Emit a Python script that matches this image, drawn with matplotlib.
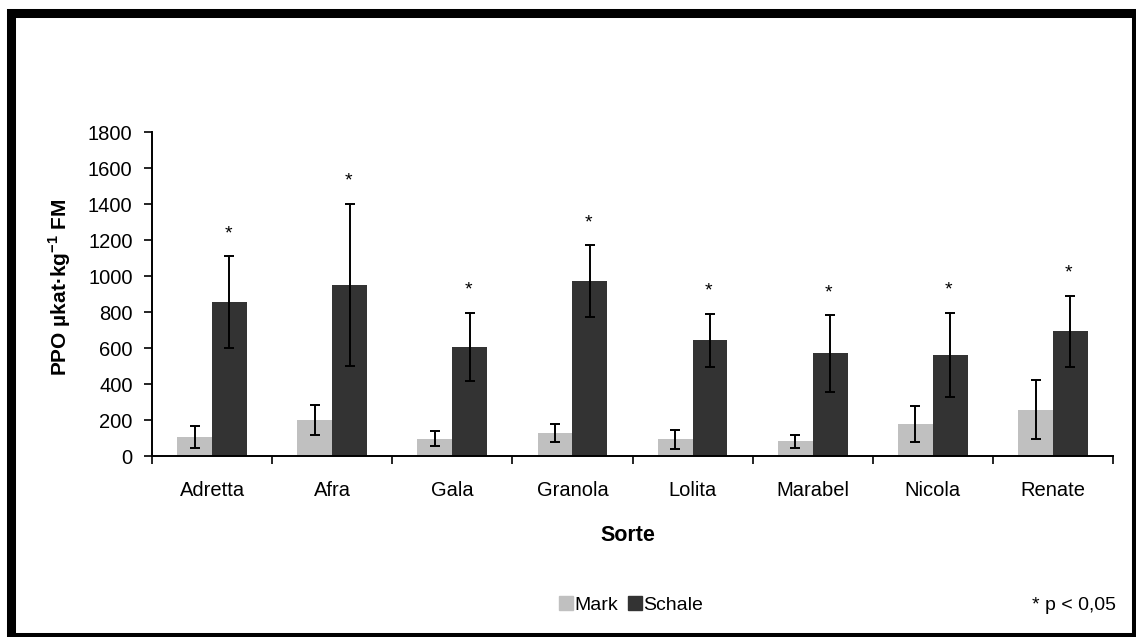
import matplotlib
matplotlib.use('Agg')
import matplotlib.pyplot as plt
import numpy as np
from matplotlib.lines import Line2D
from matplotlib.patches import Rectangle

plt.rcParams['font.family'] = ['Liberation Sans', 'DejaVu Sans']
plt.rcParams['mathtext.fontset'] = 'custom'
plt.rcParams['mathtext.rm'] = 'Liberation Sans'
plt.rcParams['mathtext.bf'] = 'Liberation Sans:bold'

sorten = ['Adretta', 'Afra', 'Gala', 'Granola', 'Lolita', 'Marabel', 'Nicola', 'Renate']
mark_mean = [105, 200, 97, 128, 92, 82, 176, 258]
mark_err = [62, 82, 42, 48, 55, 35, 100, 164]
schale_mean = [855, 950, 605, 970, 643, 570, 563, 692]
schale_err = [255, 450, 190, 200, 148, 212, 233, 197]
signif = [True] * 8

W, H = 1136, 637
fig = plt.figure(figsize=(W / 100, H / 100), dpi=100)
ax = fig.add_axes([152 / W, (H - 456) / H, (1113 - 152) / W, 324 / H])

x = np.arange(len(sorten))
bw = 0.29
ekw = dict(ecolor='black', elinewidth=1.4, capsize=3.4, capthick=1.4)
ax.bar(x - bw / 2, mark_mean, bw, color='#c0c0c0', yerr=mark_err, error_kw=ekw)
ax.bar(x + bw / 2, schale_mean, bw, color='#333333', yerr=schale_err, error_kw=ekw)

for i in range(len(sorten)):
    if signif[i]:
        ax.annotate('*', (x[i] + bw / 2, schale_mean[i] + schale_err[i]),
                    xytext=(-1, 13), textcoords='offset points',
                    ha='center', va='baseline', fontsize=14)

ax.set_xlim(-0.5, len(sorten) - 0.5)
ax.set_ylim(0, 1800)
ax.set_yticks(np.arange(0, 1801, 200))
ax.set_xticks(x)
ax.set_xticklabels(sorten)
ax.set_xticks(np.arange(-0.5, len(sorten)), minor=True)
ax.tick_params(axis='x', which='major', length=0, pad=18, labelsize=14.5)
ax.tick_params(axis='x', which='minor', length=6, width=1.2, direction='out')
ax.tick_params(axis='y', length=6, width=1.2, direction='out', pad=8, labelsize=14.5)

for s in ['top', 'right']:
    ax.spines[s].set_visible(False)
for s in ['left', 'bottom']:
    ax.spines[s].set_linewidth(1.4)

ax.set_ylabel(r'PPO µkat·kg$^{\mathbf{-1}}$ FM', fontsize=15, fontweight='bold')
ax.yaxis.set_label_coords(-0.082, 0.52)
ax.set_xlabel('Sorte', fontsize=15.5, fontweight='bold')
ax.xaxis.set_label_coords(0.495, -0.213)

handles = [Line2D([], [], marker='s', linestyle='none', markersize=10,
                  markerfacecolor='#c0c0c0', markeredgecolor='#c0c0c0'),
           Line2D([], [], marker='s', linestyle='none', markersize=10,
                  markerfacecolor='#333333', markeredgecolor='#333333')]
fig.legend(handles, ['Mark', 'Schale'], loc='center', ncol=2, frameon=False,
           bbox_to_anchor=(631 / W, (H - 605) / H), fontsize=14,
           handlelength=0.7, handletextpad=0.1, columnspacing=0.5)

fig.text(1116 / W, (H - 605) / H, '* p < 0,05', ha='right', va='center', fontsize=14)

# Rahmen
fig.patches.append(Rectangle((10.5 / W, 0.5 / H), 1125 / W, 624 / H,
                             transform=fig.transFigure, fill=False,
                             edgecolor='black', linewidth=6.5))

fig.savefig('out.png', dpi=100)
